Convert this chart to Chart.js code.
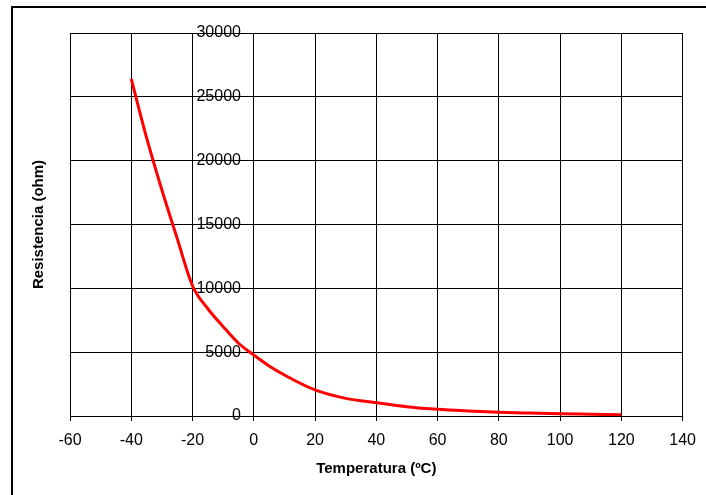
<!DOCTYPE html>
<html>
<head>
<meta charset="utf-8">
<script src="https://cdn.jsdelivr.net/npm/chart.js@4"></script>
<style>
  body { margin: 0; background: #fff; }
  #frame { position: absolute; left: 11px; top: 6px; width: 720px; height: 520px; border: 2px solid #000; border-right: none; border-bottom: none; }
  #myChart { position: absolute; left: 0; top: 0; }
</style>
</head>
<body>
<div id="frame"></div>
<canvas id="myChart" width="706" height="495"></canvas>
<script>
// temperatura (ºC) y resistencia (ohm)
const temperatura = [-40, -35, -30, -25, -20, -15, -10, -5, 0, 5, 10, 20, 30, 40, 50, 60, 70, 80, 90, 100, 110, 120];
const resistencia = [26400, 21800, 17700, 13900, 10200, 8400, 7000, 5700, 4780, 3920, 3210, 2040, 1380, 1040, 730, 520, 390, 290, 230, 180, 140, 100];

const xTicks = [-60, -40, -20, 0, 20, 40, 60, 80, 100, 120, 140];
const yTicks = [0, 5000, 10000, 15000, 20000, 25000, 30000];

const fuente = 'Arial, "Liberation Sans", sans-serif';

const chartdata = {
    datasets: [{
        label: 'Resistencia',
        borderColor: 'rgb(255, 0, 0)',
        backgroundColor: 'rgb(255, 0, 0)',
        borderWidth: 3,
        pointRadius: 0,
        cubicInterpolationMode: 'monotone',
        data: temperatura.map((t, i) => ({ x: t, y: resistencia[i] }))
    }]
};

const config = {
    type: 'line',
    data: chartdata,
    options: {
        responsive: false,
        animation: false,
        layout: { padding: { top: 33, right: 18, left: 0, bottom: 0 } },
        plugins: { legend: { display: false }, tooltip: { enabled: false } },
        scales: {
            x: {
                type: 'linear',
                min: xTicks[0],
                max: xTicks[xTicks.length - 1],
                afterBuildTicks: (s) => { s.ticks = xTicks.map(v => ({ value: v })); },
                afterFit: (s) => { s.height = 79; },
                grid: { color: '#000', lineWidth: 1, tickLength: 5 },
                border: { color: '#000' },
                ticks: { color: '#000', padding: 10, font: { family: fuente, size: 16 } },
                title: {
                    display: true,
                    text: 'Temperatura (ºC)',
                    color: '#000',
                    padding: { top: 0, bottom: 17 },
                    font: { family: fuente, size: 15, weight: 'bold' }
                }
            },
            y: {
                position: 'left',
                min: 0,
                max: 30000,
                afterBuildTicks: (s) => { s.ticks = yTicks.map(v => ({ value: v })); },
                afterFit: (s) => { s.width = 70; },
                grid: { color: '#000', lineWidth: 1, drawTicks: false },
                border: { color: '#000' },
                ticks: { display: false },
                title: {
                    display: true,
                    text: 'Resistencia (ohm)',
                    color: '#000',
                    padding: { top: 30, bottom: 0 },
                    font: { family: fuente, size: 15, weight: 'bold' }
                }
            },
            // eje que cruza en x = 0 (solo marcas)
            yCero: {
                position: { x: 0 },
                axis: 'y',
                min: 0,
                max: 30000,
                afterBuildTicks: (s) => { s.ticks = yTicks.map(v => ({ value: v })); },
                grid: { display: true, drawOnChartArea: false, color: '#000', tickLength: 5 },
                border: { color: '#000' },
                ticks: { display: false }
            },
            // etiquetas del eje y, un poco a la izquierda de x = 0
            yEtiquetas: {
                position: { x: -4.2 },
                axis: 'y',
                min: 0,
                max: 30000,
                afterBuildTicks: (s) => { s.ticks = yTicks.map(v => ({ value: v })); },
                grid: { display: false },
                border: { display: false },
                ticks: {
                    color: '#000',
                    font: { family: fuente, size: 16 },
                    callback: (v) => String(v)
                }
            }
        }
    }
};

var myChart = new Chart(
    document.getElementById('myChart'),
    config
);
</script>
</body>
</html>
